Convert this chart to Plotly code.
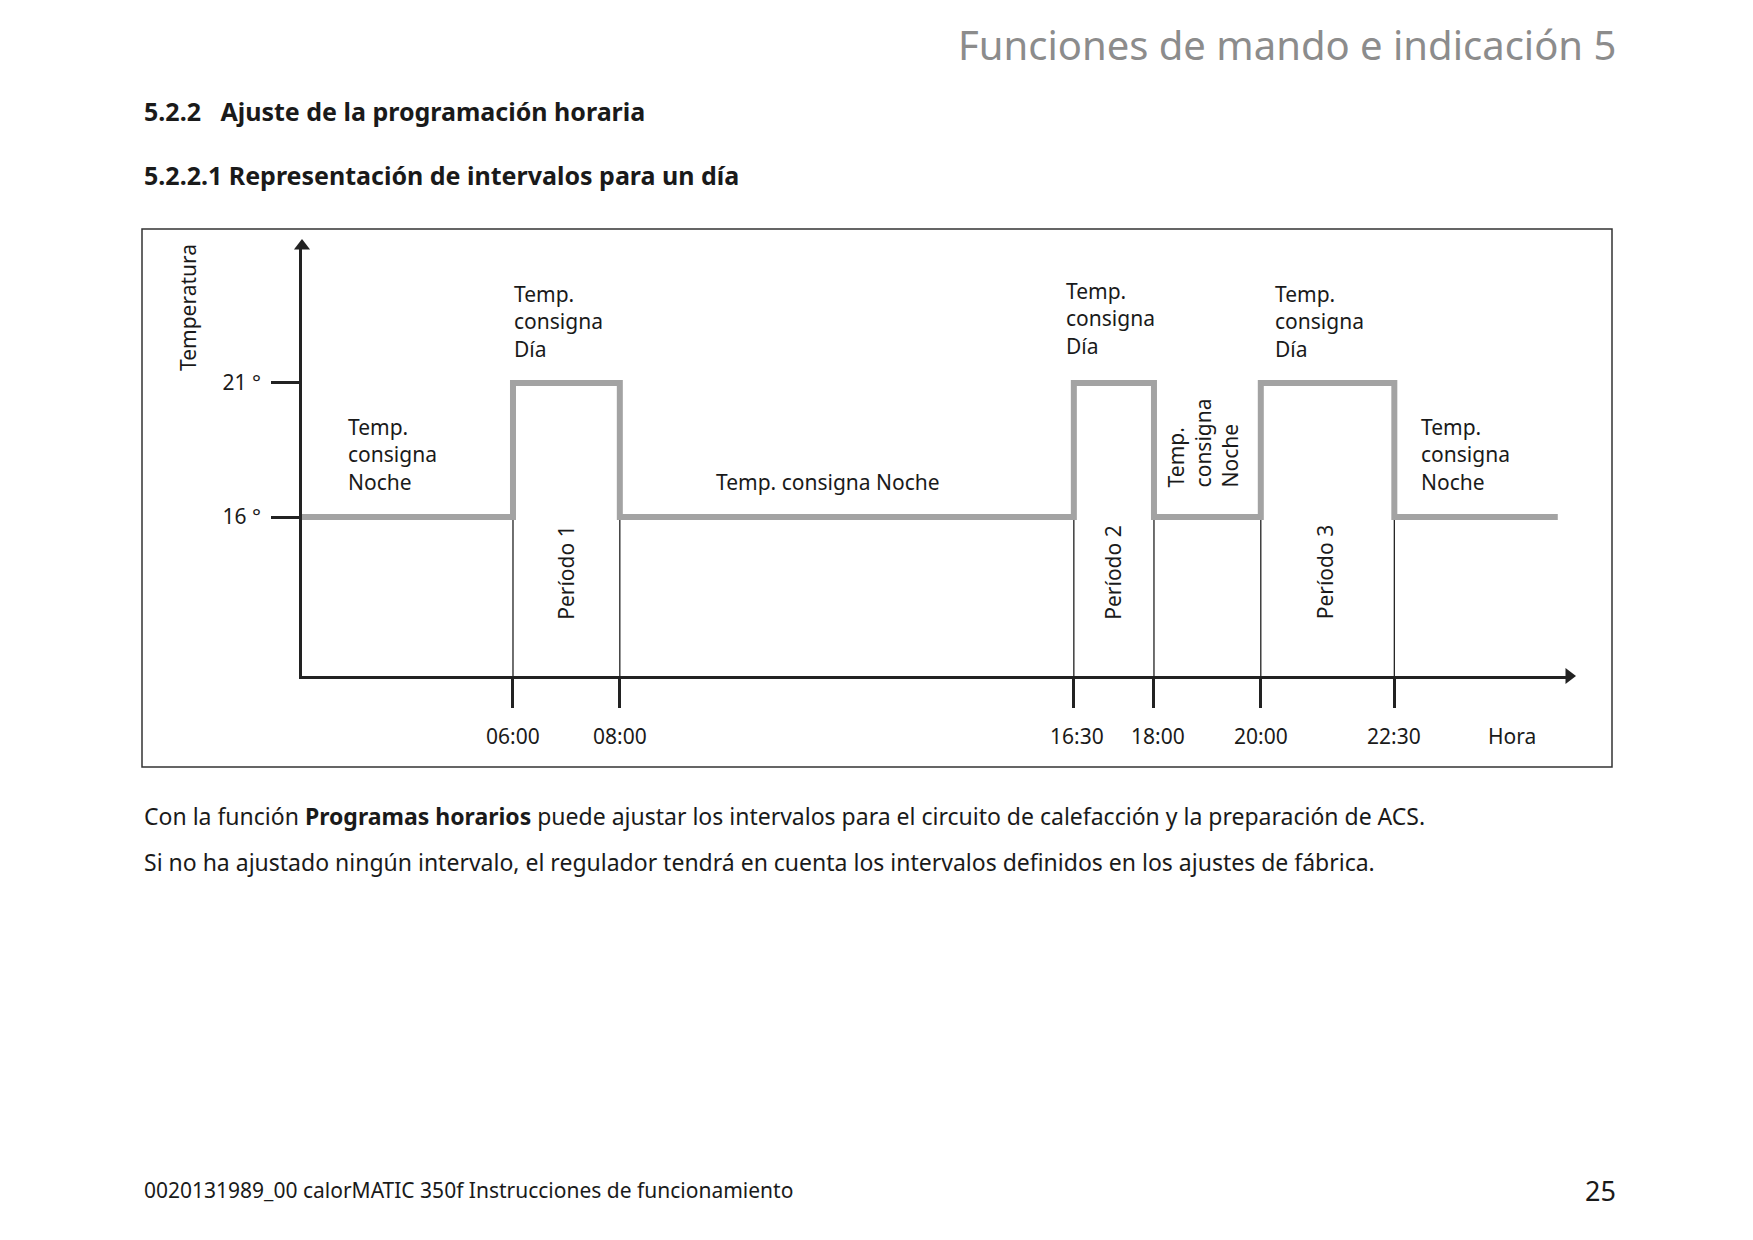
import plotly.graph_objects as go

# step profile (hours, °C)
step_hours = [2.05, 6.0, 8.0, 16.5, 18.0, 20.0, 22.5, 25.56]
step_temps = [16, 21, 16, 21, 16, 21, 16, 16]
switch_hours = [6.0, 8.0, 16.5, 18.0, 20.0, 22.5]
switch_labels = ["06:00", "08:00", "16:30", "18:00", "20:00", "22:30"]
temp_ticks = [16, 21]
temp_labels = ["16 °", "21 °"]
periods = [("Período 1", 7.0), ("Período 2", 17.24), ("Período 3", 21.2)]

X0, X1 = 2.05, 25.77
Y0, Y1 = 10.08, 26.1
FONT = "Noto Sans"
GRAY = "#a3a3a3"
OFF = 9  # page body margin compensation, px


def px(x):
    return (x - OFF) / 1753


def py(y):
    return 1 - (y - OFF) / 1240


fig = go.Figure()

# thin switch lines down to the axis
for h in switch_hours:
    fig.add_trace(go.Scatter(x=[h, h], y=[Y0, 16], mode="lines",
                             line=dict(color="#222", width=1.3), hoverinfo="skip"))

fig.add_trace(go.Scatter(x=step_hours, y=step_temps, mode="lines", line_shape="hv",
                         line=dict(color=GRAY, width=6)))

# arrow heads
fig.add_trace(go.Scatter(x=[X1], y=[Y0], mode="markers", cliponaxis=False,
                         marker=dict(symbol="triangle-right", size=14, color="#222")))
fig.add_trace(go.Scatter(x=[X0], y=[Y1], mode="markers", cliponaxis=False,
                         marker=dict(symbol="triangle-up", size=14, color="#222")))

tf = dict(family=FONT, size=21, color="#1a1a1a")
ann = []


def note(x, y, t, xanchor="left", angle=0):
    ann.append(dict(x=x, y=y, text=t, showarrow=False, xanchor=xanchor, align="left",
                    textangle=angle, font=tf))


note(2.88, 18.35, "Temp.<br>consigna<br>Noche")
note(5.98, 23.3, "Temp.<br>consigna<br>Día")
note(16.32, 23.4, "Temp.<br>consigna<br>Día")
note(20.23, 23.3, "Temp.<br>consigna<br>Día")
note(11.9, 17.3, "Temp. consigna Noche", xanchor="center")
note(18.93, 18.77, "Temp.<br>consigna<br>Noche", xanchor="center", angle=-90)
note(22.97, 18.35, "Temp.<br>consigna<br>Noche")
for name, h in periods:
    note(h, 13.94, name, xanchor="center", angle=-90)

label_offsets = [0, 0, 0.05, 0.08, 0, 0]
for h, lab, off in zip(switch_hours, switch_labels, label_offsets):
    ann.append(dict(x=h + off, y=py(737), yref="paper", text=lab, showarrow=False,
                    font=tf))
ann.append(dict(x=24.7, y=py(737), yref="paper", text="Hora", showarrow=False, font=tf))
ann.append(dict(x=px(189), y=py(309), xref="paper", yref="paper",
                text="Temperatura", textangle=-90, showarrow=False,
                xanchor="center", yanchor="middle", font=tf))


# page texts
def page(x, y, t, size, anchor="left", color="#1a1a1a"):
    ann.append(dict(x=px(x), y=py(y), xref="paper", yref="paper", text=t,
                    showarrow=False, xanchor=anchor, yanchor="middle",
                    font=dict(family=FONT, size=size, color=color)))


page(1619, 45, "Funciones de mando e indicación 5", 40, "right", "#8c8c8c")
page(143, 112, "<b>5.2.2   Ajuste de la programación horaria</b>", 25)
page(143, 176, "<b>5.2.2.1 Representación de intervalos para un día</b>", 25)
page(143, 817, "Con la función <b>Programas horarios</b> puede ajustar los intervalos "
     "para el circuito de calefacción y la preparación de ACS.", 23)
page(143, 863, "Si no ha ajustado ningún intervalo, el regulador tendrá en cuenta los "
     "intervalos definidos en los ajustes de fábrica.", 23)
page(143, 1191, "0020131989_00 calorMATIC 350f Instrucciones de funcionamiento", 21)
page(1619, 1191, "25", 27, "right")

fig.update_layout(
    width=1753, height=1240, margin=dict(l=0, r=0, t=0, b=0),
    paper_bgcolor="white", plot_bgcolor="white", showlegend=False,
    annotations=ann,
    shapes=[dict(type="rect", xref="paper", yref="paper",
                 x0=px(143), x1=px(1613), y0=py(768), y1=py(230),
                 line=dict(color="#333", width=1.5))],
    xaxis=dict(domain=[px(303), px(1570)], range=[X0, X1], showgrid=False,
               zeroline=False, showline=True, linecolor="#222", linewidth=2.5,
               tickvals=switch_hours, ticks="outside", ticklen=29, tickwidth=2.5,
               tickcolor="#222", showticklabels=False),
    yaxis=dict(domain=[py(677), py(247)], range=[Y0, Y1], showgrid=False,
               zeroline=False, showline=True, linecolor="#222", linewidth=2.5,
               tickvals=temp_ticks, ticktext=temp_labels, ticks="outside", ticklen=28,
               tickwidth=2.5, tickcolor="#222", tickfont=tf, ticklabelstandoff=6),
)

fig.write_html("out.html")
